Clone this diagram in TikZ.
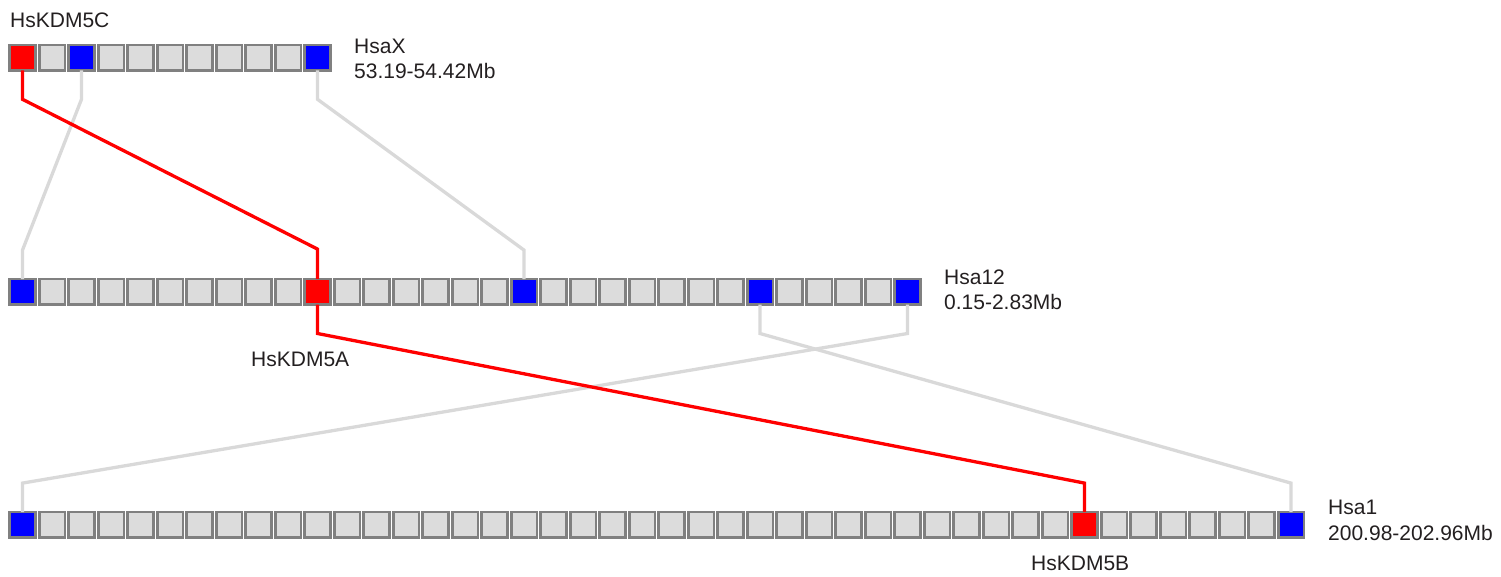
\documentclass[tikz,border=0pt]{standalone}
\usepackage{fontspec}
\setmainfont{Liberation Sans}
\usetikzlibrary{calc}
\definecolor{boxfill}{HTML}{DCDCDC}
\definecolor{boxline}{HTML}{808080}
\definecolor{linkgray}{HTML}{D9D9D9}
\definecolor{txt}{HTML}{231F20}
\tikzset{
  gbox/.style={draw=boxline, line width=2.6pt, fill=boxfill, minimum width=25.6pt, minimum height=25.4pt, inner sep=0pt, outer sep=0pt},
  bbox/.style={gbox, fill=blue},
  rbox/.style={gbox, fill=red},
  redlink/.style={draw=red, line width=3.3pt, line join=miter},
  graylink/.style={draw=linkgray, line width=3.3pt, line join=miter},
  lbl/.style={anchor=base west, inner sep=0pt, text=txt, font=\fontsize{21}{25}\selectfont}
}
\begin{document}
\begin{tikzpicture}[x=1pt, y=-1pt]
\useasboundingbox (0,0) rectangle (1501,577);
% Row 1: HsaX (11 boxes)
\foreach \i in {0,...,10} {
  \pgfmathsetmacro{\cx}{22.5+29.5*\i}
  \ifnum\i=0 \def\st{rbox}\else\ifnum\i=2 \def\st{bbox}\else\ifnum\i=10 \def\st{bbox}\else\def\st{gbox}\fi\fi\fi
  \node[\st] (x\i) at (\cx,57.6) {};
}
% Row 2: Hsa12 (31 boxes)
\foreach \i in {0,...,30} {
  \pgfmathsetmacro{\cx}{22.5+29.5*\i}
  \ifnum\i=10 \def\st{rbox}\else\ifnum\i=0 \def\st{bbox}\else\ifnum\i=17 \def\st{bbox}\else\ifnum\i=25 \def\st{bbox}\else\ifnum\i=30 \def\st{bbox}\else\def\st{gbox}\fi\fi\fi\fi\fi
  \node[\st] (a\i) at (\cx,291.8) {};
}
% Row 3: Hsa1 (44 boxes)
\foreach \i in {0,...,43} {
  \pgfmathsetmacro{\cx}{22.5+29.5*\i}
  \ifnum\i=36 \def\st{rbox}\else\ifnum\i=0 \def\st{bbox}\else\ifnum\i=43 \def\st{bbox}\else\def\st{gbox}\fi\fi\fi
  \node[\st] (b\i) at (\cx,524.8) {};
}
% gray links
\draw[graylink] (x2.south) -- ++(0,29) -- ($(a0.north)+(0,-29)$) -- (a0.north);
\draw[graylink] (x10.south) -- ++(0,29) -- ($(a17.north)+(0,-29)$) -- (a17.north);
\draw[graylink] (a25.south) -- ++(0,29) -- ($(b43.north)+(0,-29)$) -- (b43.north);
\draw[graylink] (a30.south) -- ++(0,29) -- ($(b0.north)+(0,-29)$) -- (b0.north);
% red links
\draw[redlink] (x0.south) -- ++(0,29) -- ($(a10.north)+(0,-30)$) -- (a10.north);
\draw[redlink] (a10.south) -- ++(0,29) -- ($(b36.north)+(0,-29)$) -- (b36.north);
% labels
\node[lbl] (lc) at (10,27.7) {HsKDM5C};
\node[lbl] (lx1) at (354,53.3) {HsaX};
\node[lbl] (lx2) at (354,78.3) {53.19-54.42Mb};
\node[lbl] (la1) at (944,284) {Hsa12};
\node[lbl] (la2) at (944,309.5) {0.15-2.83Mb};
\node[lbl] (lb1) at (1328,514.3) {Hsa1};
\node[lbl] (lb2) at (1328,540) {200.98-202.96Mb};
\node[lbl] (lka) at (251,366) {HsKDM5A};
\node[lbl] (lkb) at (1031,570) {HsKDM5B};
\end{tikzpicture}
\end{document}
